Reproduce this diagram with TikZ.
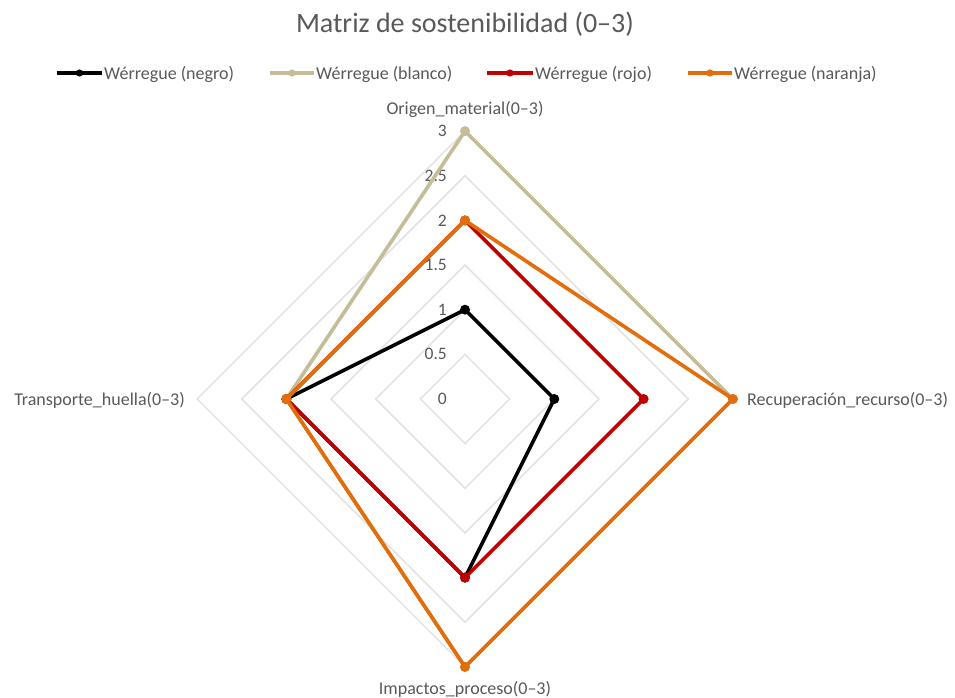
\documentclass[tikz,border=0pt]{standalone}
\usepackage{fontspec}
\setmainfont{Carlito}
\definecolor{txtgray}{HTML}{595959}
\definecolor{gridgray}{HTML}{E3E3E3}
\definecolor{cnegro}{HTML}{000000}
\definecolor{cblanco}{HTML}{C4BD97}
\definecolor{crojo}{HTML}{C00000}
\definecolor{cnaranja}{HTML}{E46C0A}
\newcommand{\radarseries}[6]{%
  \coordinate (#1-O) at (465,{399-89.3*#3});
  \coordinate (#1-R) at ({465+89.3*#4},399);
  \coordinate (#1-I) at (465,{399+89.3*#5});
  \coordinate (#1-T) at ({465-89.3*#6},399);
  \draw[serieline,#2] (#1-O) -- (#1-R) -- (#1-I) -- (#1-T) -- cycle;
  \foreach \p in {O,R,I,T} \fill[#2] (#1-\p) circle[radius=5pt];
}
\newcommand{\legentry}[5]{%
  \coordinate (#1-a) at (#3,73);
  \coordinate (#1-b) at (#4,73);
  \draw[legline,#2] (#1-a) -- (#1-b);
  \fill[#2] ($(#1-a)!0.5!(#1-b)$) circle[radius=3.6pt];
  \node[legtext,anchor=base west] (#1-t) at (#4+2,80) {#5};
}
\usetikzlibrary{calc}
\begin{document}
\begin{tikzpicture}[x=1pt,y=-1pt,
  gridline/.style={draw=gridgray,line width=1.5pt},
  serieline/.style={line width=3.6pt,line join=round},
  legline/.style={line width=4pt},
  legtext/.style={text=txtgray,font=\fontsize{18}{21}\selectfont,inner sep=0pt},
  axlabel/.style={text=txtgray,font=\fontsize{18}{21}\selectfont,inner sep=0pt},
  ticklabel/.style={text=txtgray,font=\fontsize{17.5}{20}\selectfont,inner sep=0pt,anchor=east}]
\fill[white] (0,0) rectangle (955,698);
\useasboundingbox (0,0) rectangle (955,698);
% title
\node[text=txtgray,font=\fontsize{28}{32}\selectfont,inner sep=0pt,anchor=base] (title) at (465,33) {Matriz de sostenibilidad (0–3)};
% legend
\legentry{lnegro}{cnegro}{57}{102}{Wérregue (negro)}
\legentry{lblanco}{cblanco}{270}{314}{Wérregue (blanco)}
\legentry{lrojo}{crojo}{487}{533}{Wérregue (rojo)}
\legentry{lnaranja}{cnaranja}{688}{732}{Wérregue (naranja)}
% grid
\foreach \r in {0.5,1,1.5,2,2.5,3}{
  \draw[gridline] (465,{399-89.3*\r}) -- ({465+89.3*\r},399) -- (465,{399+89.3*\r}) -- ({465-89.3*\r},399) -- cycle;
}
% tick labels
\foreach \v/\t in {0/0,0.5/0.5,1/1,1.5/1.5,2/2,2.5/2.5,3/3}{
  \node[ticklabel] (tick\v) at (447,{399-89.3*\v}) {\t};
}
% axis labels
\node[axlabel,anchor=base] (axO) at (465,114) {Origen\_material(0–3)};
\node[axlabel,anchor=base west] (axR) at (747,405) {Recuperación\_recurso(0–3)};
\node[axlabel,anchor=base] (axI) at (465,694) {Impactos\_proceso(0–3)};
\node[axlabel,anchor=base east] (axT) at (185,405) {Transporte\_huella(0–3)};
% series
\radarseries{negro}{cnegro}{1}{1}{2}{2}
\radarseries{blanco}{cblanco}{3}{3}{3}{2}
\radarseries{rojo}{crojo}{2}{2}{2}{2}
\radarseries{naranja}{cnaranja}{2}{3}{3}{2}
\end{tikzpicture}
\end{document}
